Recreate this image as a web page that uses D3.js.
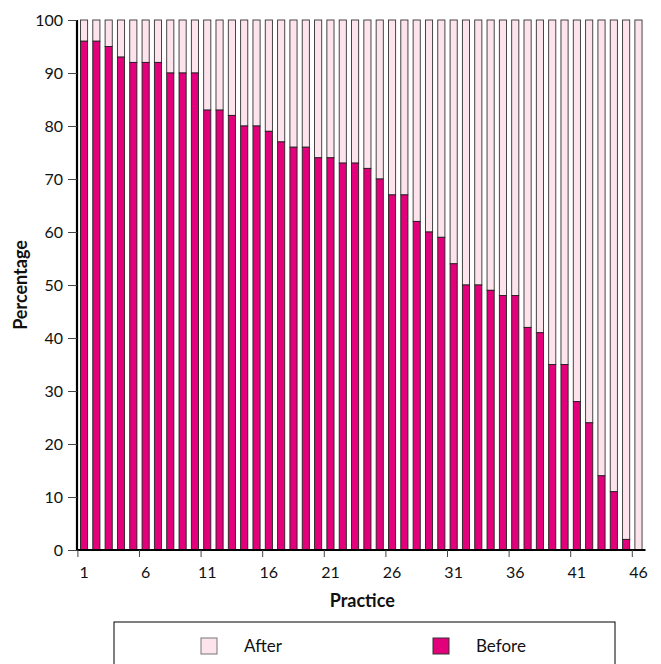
<!DOCTYPE html>
<html>
<head>
<meta charset="utf-8">
<script src="https://cdn.jsdelivr.net/npm/d3@7"></script>
<style>
  body { margin: 0; background: #fff; }
  svg { display: block; }
  text { font-family: Lato, 'Open Sans', sans-serif; fill: #111; }
  .tick text { font-size: 16px; }
  .label { font-size: 18px; font-weight: 700; }
  .legend text { font-size: 17px; }
</style>
</head>
<body>
<svg id="chart" width="661" height="664"></svg>
<script>
// practice number 1..46
const practices = d3.range(1, 47);
const before = [96, 96, 95, 93, 92, 92, 92, 90, 90, 90,
                83, 83, 82, 80, 80, 79, 77, 76, 76, 74,
                74, 73, 73, 72, 70, 67, 67, 62, 60, 59,
                54, 50, 50, 49, 48, 48, 42, 41, 35, 35,
                28, 24, 14, 11, 2, 0];
const after = [4, 4, 5, 7, 8, 8, 8, 10, 10, 10,
               17, 17, 18, 20, 20, 21, 23, 24, 24, 26,
               26, 27, 27, 28, 30, 33, 33, 38, 40, 41,
               46, 50, 50, 51, 52, 52, 58, 59, 65, 65,
               72, 76, 86, 89, 98, 100];
const xTicks = [1, 6, 11, 16, 21, 26, 31, 36, 41, 46];
const yTicks = [0, 10, 20, 30, 40, 50, 60, 70, 80, 90, 100];

const colors = { Before: '#e3007b', After: '#fde4ec' };

const svg = d3.select('#chart');
const plotL = 78, plotR = 644.5, plotT = 20, plotB = 550;

const x = d3.scaleBand()
  .domain(practices)
  .range([plotL, plotR])
  .paddingInner(0.42)
  .paddingOuter(0.2);

const y = d3.scaleLinear().domain([0, 100]).range([plotB, plotT]);

const rows = practices.map((p, i) => ({ p, before: before[i], after: after[i] }));

// bars: before at the bottom, after stacked on top
const g = svg.append('g');
g.selectAll('rect.after')
  .data(rows)
  .join('rect')
  .attr('class', 'after')
  .attr('x', d => x(d.p))
  .attr('width', x.bandwidth())
  .attr('y', d => y(d.before + d.after))
  .attr('height', d => y(d.before) - y(d.before + d.after))
  .attr('fill', colors.After)
  .attr('stroke', '#333')
  .attr('stroke-width', 0.9);

g.selectAll('rect.before')
  .data(rows.filter(d => d.before > 0))
  .join('rect')
  .attr('class', 'before')
  .attr('x', d => x(d.p))
  .attr('width', x.bandwidth())
  .attr('y', d => y(d.before))
  .attr('height', d => y(0) - y(d.before))
  .attr('fill', colors.Before)
  .attr('stroke', '#222')
  .attr('stroke-width', 0.9);

// y axis
const yAxis = svg.append('g')
  .attr('transform', `translate(${plotL - 1},0)`)
  .call(d3.axisLeft(y).tickValues(yTicks).tickSize(9).tickPadding(5));
yAxis.select('.domain').attr('stroke', '#000').attr('stroke-width', 2.2)
  .attr('d', `M0,${plotT}V${plotB}`);
yAxis.selectAll('.tick line').attr('stroke', '#444');

// x axis: ticks at band edges, labels on band centres
const xAxis = svg.append('g')
  .attr('transform', `translate(0,${plotB})`)
  .call(d3.axisBottom(x).tickValues(xTicks).tickSize(7).tickPadding(10));
xAxis.select('.domain').attr('stroke', '#000').attr('stroke-width', 2.2)
  .attr('d', `M${plotL - 1},0H${plotR + 1}`);
xAxis.selectAll('.tick line')
  .attr('stroke', '#444')
  .attr('x1', -x.step() / 2)
  .attr('x2', -x.step() / 2);

// axis titles
svg.append('text')
  .attr('class', 'label')
  .attr('x', (plotL + plotR) / 2 + 1)
  .attr('y', 607)
  .attr('text-anchor', 'middle')
  .text('Practice');

svg.append('text')
  .attr('class', 'label')
  .attr('transform', `translate(27,${(plotT + plotB) / 2}) rotate(-90)`)
  .attr('text-anchor', 'middle')
  .text('Percentage');

// legend
const legend = svg.append('g').attr('class', 'legend');
legend.append('rect')
  .attr('x', 114).attr('y', 622)
  .attr('width', 501).attr('height', 60)
  .attr('fill', '#fff').attr('stroke', '#000').attr('stroke-width', 1);

const items = [
  { name: 'After', sx: 201, tx: 244 },
  { name: 'Before', sx: 433, tx: 476 }
];
const li = legend.selectAll('g.item').data(items).join('g').attr('class', 'item');
li.append('rect')
  .attr('x', d => d.sx).attr('y', 638)
  .attr('width', 16).attr('height', 16)
  .attr('fill', d => colors[d.name])
  .attr('stroke', d => d.name === 'After' ? '#777' : '#333')
  .attr('stroke-width', 1);
li.append('text')
  .attr('x', d => d.tx).attr('y', 652)
  .text(d => d.name);
</script>
</body>
</html>
